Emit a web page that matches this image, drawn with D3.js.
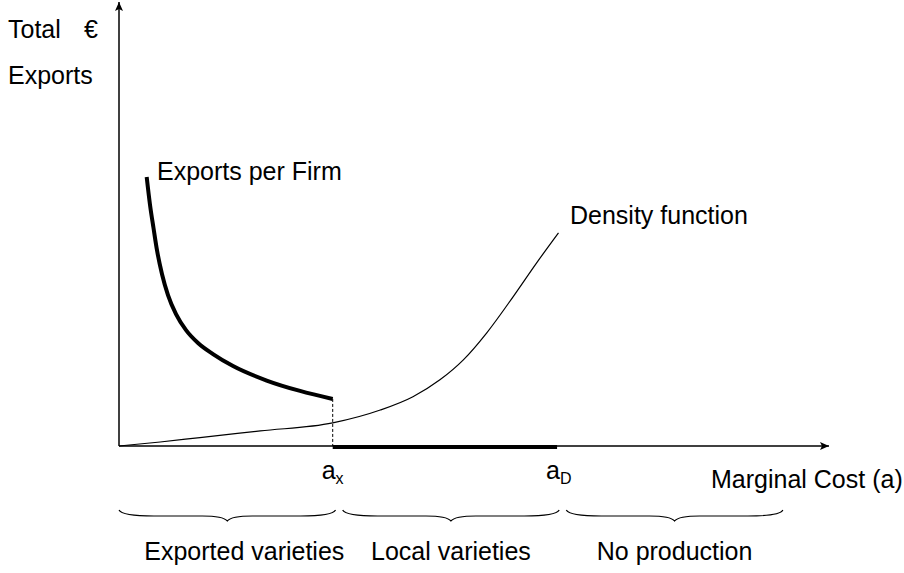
<!DOCTYPE html>
<html>
<head>
<meta charset="utf-8">
<script src="https://cdn.jsdelivr.net/npm/d3@7"></script>
<style>
html,body{margin:0;padding:0;background:#fff;}
text{font-family:"Liberation Sans",Arial,sans-serif;fill:#000;}
</style>
</head>
<body>
<svg id="chart" width="904" height="573"></svg>
<script>
// ---- data (arbitrary units) ----
const aX = 3.01;              // export cutoff
const aD = 6.17;              // domestic cutoff
const exportsCost  = [0.39, 0.437, 0.486, 0.535, 0.606, 0.69, 0.803, 0.944, 1.113, 1.324, 1.606, 2.08, 2.55, 3.01];
const exportsValue = [6.06, 5.43, 4.91, 4.41, 3.87, 3.40, 2.97, 2.61, 2.32, 2.07, 1.80, 1.475, 1.24, 1.06];
const densityCost  = [0, 0.58, 1.14, 1.99, 3.01, 3.68, 4.14, 4.52, 4.85, 5.18, 5.55, 5.88, 6.19];
const densityValue = [0, 0.09, 0.19, 0.34, 0.52, 0.81, 1.11, 1.49, 1.94, 2.55, 3.36, 4.12, 4.80];
const regionNames  = ["Exported varieties", "Local varieties", "No production"];
const regionStart  = [0, 3.15, 6.30];
const regionEnd    = [3.05, 6.20, 9.35];

const svg = d3.select("#chart");
const x = d3.scaleLinear().domain([0, 10]).range([119, 829]);
const y = d3.scaleLinear().domain([0, 10]).range([446, 2]);

// arrow marker
const defs = svg.append("defs");
defs.append("marker").attr("id","arr").attr("viewBox","-10 -5 12 10")
  .attr("refX",0).attr("refY",0).attr("markerWidth",12).attr("markerHeight",10)
  .attr("markerUnits","userSpaceOnUse").attr("orient","auto")
  .append("path").attr("d","M-9,-4 L0,0 L-9,4 L-7,0 Z").attr("fill","#000");

// axes
svg.append("line").attr("x1",x(0)).attr("y1",y(0)).attr("x2",x(10)).attr("y2",y(0))
  .attr("stroke","#000").attr("stroke-width",1.5).attr("marker-end","url(#arr)");
svg.append("line").attr("x1",x(0)).attr("y1",y(0)).attr("x2",x(0)).attr("y2",y(10))
  .attr("stroke","#000").attr("stroke-width",1.5).attr("marker-end","url(#arr)");

// density function
const dens = densityCost.map((c,i)=>[c, densityValue[i]]);
svg.append("path").datum(dens)
  .attr("d", d3.line().x(d=>x(d[0])).y(d=>y(d[1])).curve(d3.curveMonotoneX))
  .attr("fill","none").attr("stroke","#000").attr("stroke-width",1.2);

// exports per firm
const exps = exportsCost.map((c,i)=>[c, exportsValue[i]]);
svg.append("path").datum(exps)
  .attr("d", d3.line().x(d=>x(d[0])).y(d=>y(d[1])).curve(d3.curveMonotoneX))
  .attr("fill","none").attr("stroke","#000").attr("stroke-width",4);

// dashed drop at aX
svg.append("line").attr("x1",x(aX)).attr("x2",x(aX))
  .attr("y1",y(exportsValue[exportsValue.length-1])).attr("y2",y(0))
  .attr("stroke","#000").attr("stroke-width",1).attr("stroke-dasharray","3,2");

// zero exports segment between aX and aD
svg.append("line").attr("x1",x(aX)).attr("x2",x(aD)).attr("y1",y(0)+1).attr("y2",y(0)+1)
  .attr("stroke","#000").attr("stroke-width",4);

const fs = 25;
// labels
svg.append("text").attr("x",8).attr("y",38).attr("font-size",fs).text("Total");
svg.append("text").attr("x",84).attr("y",38).attr("font-size",fs).text("€");
svg.append("text").attr("x",8).attr("y",84).attr("font-size",fs).text("Exports");
svg.append("text").attr("x",157).attr("y",180).attr("font-size",fs).text("Exports per Firm");
svg.append("text").attr("x",570).attr("y",224).attr("font-size",fs).text("Density function");
svg.append("text").attr("x",711).attr("y",488).attr("font-size",fs).text("Marginal Cost (a)");

function subLabel(xv, main, sub){
  const t = svg.append("text").attr("x",x(xv)-11).attr("y",479).attr("font-size",fs);
  t.append("tspan").text(main);
  t.append("tspan").attr("font-size",16).attr("dy",5).text(sub);
}
subLabel(aX, "a", "x");
subLabel(aD, "a", "D");

// braces
function bracePath(x0, x1){
  const m = (x0+x1)/2, yt = 510, yf = 516, yb = 521;
  return `M${x0},${yt} Q${x0+3},${yf} ${x0+35},${yf} L${m-25},${yf} Q${m-4},${yf} ${m},${yb} Q${m+4},${yf} ${m+25},${yf} L${x1-35},${yf} Q${x1-3},${yf} ${x1},${yt}`;
}
const labelShift = [17, 0, 0];
regionNames.forEach((name,i)=>{
  const x0 = x(regionStart[i]), x1 = x(regionEnd[i]);
  svg.append("path").attr("d", bracePath(x0,x1)).attr("fill","none")
    .attr("stroke","#000").attr("stroke-width",1.2);
  svg.append("text").attr("x",(x0+x1)/2 + labelShift[i]).attr("y",560).attr("text-anchor","middle")
    .attr("font-size",fs).text(name);
});
</script>
</body>
</html>
